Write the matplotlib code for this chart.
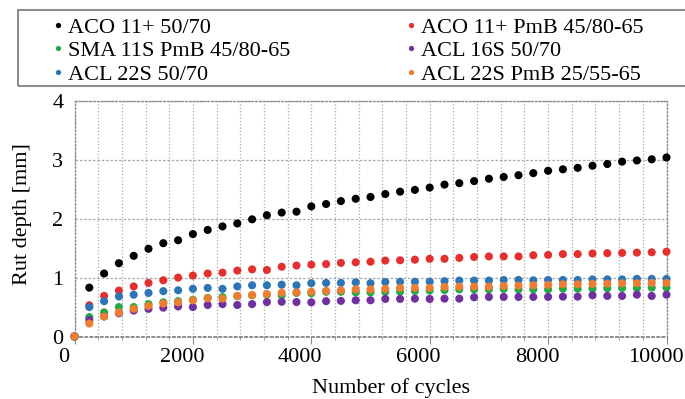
import numpy as np
import matplotlib.pyplot as plt
import matplotlib.transforms as mtransforms
from matplotlib.patches import Rectangle
from matplotlib.lines import Line2D

plt.rcParams['font.family'] = ['Liberation Serif', 'DejaVu Serif']

# Дані: кількість циклів і глибина колії (мм)
cycles = list(range(0, 10001, 250))

aco_5070 = [0, 0.83, 1.07, 1.245, 1.37, 1.49, 1.585, 1.635, 1.74, 1.81, 1.87, 1.92, 1.99, 2.06,
            2.105, 2.12, 2.21, 2.25, 2.30, 2.34, 2.37, 2.42, 2.46, 2.49, 2.53, 2.58, 2.605, 2.64,
            2.68, 2.71, 2.74, 2.775, 2.815, 2.84, 2.865, 2.90, 2.93, 2.97, 2.99, 3.01, 3.04]
aco_pmb = [0, 0.53, 0.69, 0.78, 0.85, 0.91, 0.955, 1.0, 1.035, 1.07, 1.085, 1.12, 1.14, 1.13,
           1.185, 1.205, 1.22, 1.23, 1.25, 1.26, 1.27, 1.29, 1.295, 1.305, 1.32, 1.32, 1.335,
           1.35, 1.36, 1.36, 1.36, 1.38, 1.385, 1.40, 1.40, 1.41, 1.415, 1.42, 1.425, 1.43, 1.44]
sma_pmb = [0, 0.33, 0.41, 0.50, 0.50, 0.55, 0.58, 0.60, 0.625, 0.655, 0.67, 0.685, 0.70, 0.71,
           0.70, 0.74, 0.735, 0.76, 0.76, 0.75, 0.75, 0.757, 0.762, 0.774, 0.78, 0.79, 0.80,
           0.80, 0.80, 0.808, 0.80, 0.80, 0.80, 0.813, 0.813, 0.813, 0.819, 0.825, 0.825, 0.83, 0.83]
acl16_5070 = [0, 0.28, 0.34, 0.395, 0.44, 0.47, 0.49, 0.51, 0.50, 0.535, 0.55, 0.535, 0.55, 0.585,
              0.59, 0.585, 0.58, 0.60, 0.605, 0.615, 0.615, 0.638, 0.638, 0.643, 0.638, 0.643,
              0.643, 0.666, 0.672, 0.672, 0.672, 0.672, 0.672, 0.677, 0.677, 0.70, 0.689, 0.689,
              0.711, 0.689, 0.711]
acl22_5070 = [0, 0.50, 0.60, 0.68, 0.71, 0.74, 0.77, 0.785, 0.81, 0.825, 0.81, 0.85, 0.87, 0.87,
              0.88, 0.87, 0.905, 0.91, 0.91, 0.92, 0.905, 0.925, 0.93, 0.93, 0.93, 0.94, 0.95,
              0.95, 0.95, 0.96, 0.96, 0.955, 0.96, 0.96, 0.96, 0.97, 0.97, 0.97, 0.98, 0.978, 0.978]
acl22_pmb = [0, 0.22, 0.34, 0.41, 0.47, 0.52, 0.56, 0.58, 0.615, 0.65, 0.645, 0.69, 0.705, 0.72,
             0.745, 0.75, 0.76, 0.775, 0.785, 0.80, 0.80, 0.808, 0.825, 0.825, 0.825, 0.842,
             0.847, 0.847, 0.847, 0.859, 0.864, 0.87, 0.876, 0.887, 0.887, 0.893, 0.898, 0.904,
             0.904, 0.91, 0.91]

labels = ["ACO 11+ 50/70", "ACO 11+ PmB 45/80-65", "SMA 11S PmB 45/80-65",
          "ACL 16S 50/70", "ACL 22S 50/70", "ACL 22S PmB 25/55-65"]
series = [aco_5070, aco_pmb, sma_pmb, acl16_5070, acl22_5070, acl22_pmb]
colors = ["#000000", "#e3302f", "#25a84a", "#7030a0", "#2e75b6", "#ed7d31"]

W, H = 685, 399
fig = plt.figure(figsize=(W / 100, H / 100), dpi=100)
ax = fig.add_axes([74.5 / W, 1 - 336.5 / H, 592 / W, 235.5 / H])

for ys, c in zip(series, colors):
    ax.scatter(cycles, ys, s=34, color=c, edgecolors='none', zorder=3, clip_on=False)

ax.set_xlim(0, 10000)
ax.set_ylim(0, 4)
ax.set_xticks(np.arange(0, 10001, 2000))
ax.set_xticks(np.arange(0, 10001, 400), minor=True)
ax.set_yticks([0, 1, 2, 3, 4])

gcol = "#a8a8a8"
ax.grid(which='both', axis='x', linestyle=':', color=gcol, linewidth=0.9)
ax.grid(which='major', axis='y', linestyle=(0, (2, 1.5)), color=gcol, linewidth=0.9)
for name, sp in ax.spines.items():
    sp.set_color("#8c8c8c")
    sp.set_linestyle(':')
    sp.set_linewidth(1.0)
ax.spines['bottom'].set_linewidth(1.4)

ax.tick_params(axis='x', which='major', length=5, color="#8c8c8c", direction='out',
               labelsize=16, pad=3)
ax.tick_params(axis='x', which='minor', length=2, color="#8c8c8c", direction='out')
ax.tick_params(axis='y', length=0, labelsize=16, pad=8)

# зсув підписів осі X трохи ліворуч, як в оригіналі
shift = mtransforms.ScaledTranslation(-11 / 100, 0, fig.dpi_scale_trans)
for lab in ax.get_xticklabels():
    lab.set_transform(lab.get_transform() + shift)

ax.set_xlabel("Number of cycles", fontsize=16)
ax.xaxis.set_label_coords(0.5346, -0.177)
ax.set_ylabel("Rut depth [mm]", fontsize=16)
ax.yaxis.set_label_coords(-0.0718, 0.52)

# рамка легенди (права межа виходить за край)
fig.patches.append(Rectangle((17.5 / W, 1 - 86 / H), 700 / W, 76 / H,
                             transform=fig.transFigure, facecolor='none',
                             edgecolor="#808080", linewidth=1.3))

handles = [Line2D([], [], linestyle='none', marker='o', markersize=3.8,
                  markerfacecolor=c, markeredgecolor='none') for c in colors]
for col, left in ((0, 53.5), (1, 406.5)):
    idx = [col, col + 2, col + 4]
    fig.legend([handles[i] for i in idx], [labels[i] for i in idx],
               loc='upper left', bbox_to_anchor=(left / W, 1 - 17 / H),
               frameon=False, fontsize=16, borderpad=0, borderaxespad=0,
               handlelength=0.4, handletextpad=0.25, labelspacing=0.14)

fig.savefig("out.png", dpi=100)
